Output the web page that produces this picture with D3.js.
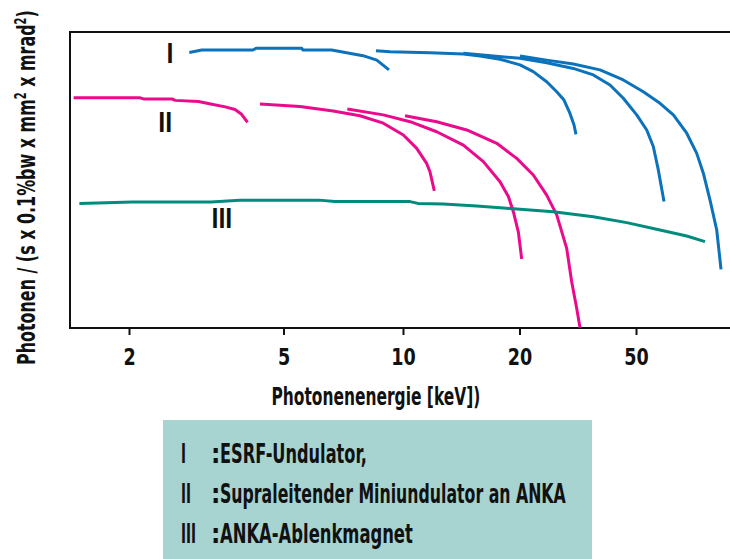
<!DOCTYPE html>
<html>
<head>
<meta charset="utf-8">
<script src="https://cdn.jsdelivr.net/npm/d3@7"></script>
<style>
  body { margin: 0; background: #fff; }
  text { font-family: "Liberation Sans Narrow", "DejaVu Sans Condensed", sans-serif; font-weight: bold; fill: #111; }
</style>
</head>
<body>
<svg id="chart" width="730" height="559"></svg>
<script>
// energies in keV, brightness in relative units (0..100, axis has no values)
var curve_I_a = [[2.86,93.1],[3.08,93.9],[4.17,93.9],[4.25,94.5],[5.56,94.5],[5.60,93.9],[6.61,93.9],[7.21,93.0],[7.93,92.0],[8.59,90.5],[9.22,87.2]];
var curve_I_b = [[8.55,93.7],[9.28,93.3],[11.74,93.0],[14.32,92.6],[15.81,91.9],[17.81,90.8],[20.08,88.9],[22.29,86.6],[24.77,83.2],[26.80,79.8],[28.38,77.0],[29.75,72.5],[30.71,68.6],[31.19,65.4]];
var curve_I_c = [[14.32,92.8],[20.08,91.1],[24.77,89.6],[30.54,87.7],[35.75,85.5],[40.76,82.1],[45.25,77.6],[50.28,72.0],[54.40,66.9],[57.29,61.3],[59.59,53.4],[62.32,42.7]];
var curve_I_d = [[20.08,91.9],[24.77,90.5],[30.54,89.2],[37.67,87.2],[45.25,83.8],[52.96,79.8],[60.39,75.9],[67.07,72.0],[74.52,65.8],[80.62,59.0],[84.91,52.3],[89.50,43.2],[94.35,33.1],[97.59,19.8]];

var curve_II_a = [[1.44,77.8],[2.13,77.8],[2.18,77.4],[2.58,77.4],[2.63,76.9],[3.02,76.5],[3.27,75.6],[3.54,74.7],[3.75,73.8],[3.90,72.2],[4.04,69.5]];
var curve_II_b = [[4.35,75.7],[5.50,74.8],[6.67,73.3],[7.79,71.7],[8.92,69.2],[10.02,65.2],[10.85,60.7],[11.51,55.6],[11.74,52.8],[12.05,46.3]];
var curve_II_c = [[7.24,74.0],[8.92,72.0],[10.43,69.7],[12.22,66.3],[14.32,61.8],[16.13,56.2],[17.81,49.4],[18.72,44.4],[19.28,39.3],[19.86,32.5],[20.35,23.3]];
var curve_II_d = [[10.12,71.7],[12.22,69.7],[14.61,66.9],[17.47,62.4],[19.67,57.3],[22.29,51.7],[24.77,44.9],[26.80,38.2],[28.99,26.9],[30.15,15.6],[31.36,6.7],[32.19,0.1]];

var curve_III = [[1.49,42.1],[2.04,42.6],[3.25,42.6],[3.86,43.2],[6.14,43.2],[6.74,42.7],[10.43,42.7],[10.93,42.1],[12.71,41.9],[15.50,41.2],[18.91,40.4],[26.09,39.3],[35.75,37.6],[46.48,35.6],[60.39,33.1],[74.52,31.1],[86.04,29.2]];

var x_ticks = [2, 5, 10, 20, 50];
var tick_pos = [129, 283.5, 403, 519.5, 636];   // the printed axis is not evenly logarithmic
var series = [
  {name: "I",   color: "#0b72bb", curves: [curve_I_a, curve_I_b, curve_I_c, curve_I_d], label: [2.55, 63]},
  {name: "II",  color: "#ea0a8c", curves: [curve_II_a, curve_II_b, curve_II_c, curve_II_d], label: [2.48, 132]},
  {name: "III", color: "#008c7c", curves: [curve_III], label: [3.47, 228]}
];
var legend_lines = [
  ["I", "ESRF-Undulator,"],
  ["II", "Supraleitender Miniundulator an ANKA"],
  ["III", "ANKA-Ablenkmagnet"]
];

var svg = d3.select("#chart");
var m_left = 70, m_top = 32, m_bottom = 328;

var scales = {
  energy: d3.scaleLog().domain(x_ticks).range(tick_pos),
  flux: d3.scaleLinear().domain([0, 100]).range([m_bottom, m_top])
};

// squeeze a text horizontally to a given width, keeping its left edge
function fit_width(sel, w) {
  var n = sel.node().getComputedTextLength();
  var x = +sel.attr("x");
  sel.attr("transform", "translate(" + x + ",0) scale(" + (w / n) + ",1) translate(" + (-x) + ",0)");
}

// frame (open on the right, runs off the page)
svg.append("path")
  .attr("d", "M740," + m_top + "H" + m_left + "V" + m_bottom + "H740")
  .attr("fill", "none")
  .attr("stroke", "#111")
  .attr("stroke-width", 2);

var x_axis = d3.axisBottom(scales.energy)
  .tickValues(x_ticks)
  .tickFormat(d3.format("d"))
  .tickSize(7)
  .tickPadding(14);
var gx = svg.append("g")
  .attr("transform", "translate(0," + m_bottom + ")")
  .call(x_axis);
gx.select(".domain").remove();
gx.selectAll("line").attr("stroke", "#111").attr("stroke-width", 2);
gx.selectAll("text")
  .attr("font-size", 23)
  .attr("fill", "#111")
  .attr("transform", "scale(0.85,1)")
  .style("font-family", "'Liberation Sans Narrow', 'DejaVu Sans Condensed', sans-serif")
  .style("font-weight", "bold");

var xlab = svg.append("text")
  .attr("x", 271.5)
  .attr("y", 405)
  .attr("font-size", 25)
  .text("Photonenenergie [keV])");
fit_width(xlab, 209);

var ylab = svg.append("text")
  .attr("font-size", 24);
ylab.append("tspan").text("Photonen / (s x 0.1%bw  x mm");
ylab.append("tspan").attr("dy", -9).attr("font-size", 15).text("2");
ylab.append("tspan").attr("dy", 9).text(" x mrad");
ylab.append("tspan").attr("dy", -9).attr("font-size", 15).text("2");
ylab.append("tspan").attr("dy", 9).text(")");
var ylen = ylab.node().getComputedTextLength();
ylab.attr("transform", "translate(35,365) rotate(-90) scale(" + (355 / ylen) + ",1)");

var line = d3.line()
  .x(function(d) { return scales.energy(d[0]); })
  .y(function(d) { return scales.flux(d[1]); });

series.forEach(function(s) {
  svg.append("g")
    .selectAll("path")
    .data(s.curves)
    .enter()
    .append("path")
    .attr("d", line)
    .attr("fill", "none")
    .attr("stroke", s.color)
    .attr("stroke-width", 3)
    .attr("stroke-linejoin", "round");

  var lx = scales.energy(s.label[0]);
  svg.append("text")
    .attr("x", lx)
    .attr("y", s.label[1])
    .attr("text-anchor", "middle")
    .attr("font-size", 26)
    .attr("transform", "translate(" + lx + ",0) scale(0.8,1) translate(" + (-lx) + ",0)")
    .text(s.name);
});

// legend box
svg.append("rect")
  .attr("x", 163).attr("y", 420)
  .attr("width", 429).attr("height", 145)
  .attr("fill", "#a7d3d1");

var widths = [147, 346, 193];
var num_widths = [5, 10, 15];
legend_lines.forEach(function(l, i) {
  var y = 463 + i * 40;
  var num = svg.append("text")
    .attr("x", 181).attr("y", y)
    .attr("font-size", 26)
    .text(l[0]);
  fit_width(num, num_widths[i]);
  svg.append("text")
    .attr("x", 211).attr("y", y)
    .attr("font-size", 26)
    .text(":");
  var t = svg.append("text")
    .attr("x", 220).attr("y", y)
    .attr("font-size", 26)
    .text(l[1]);
  fit_width(t, widths[i]);
});
</script>
</body>
</html>
